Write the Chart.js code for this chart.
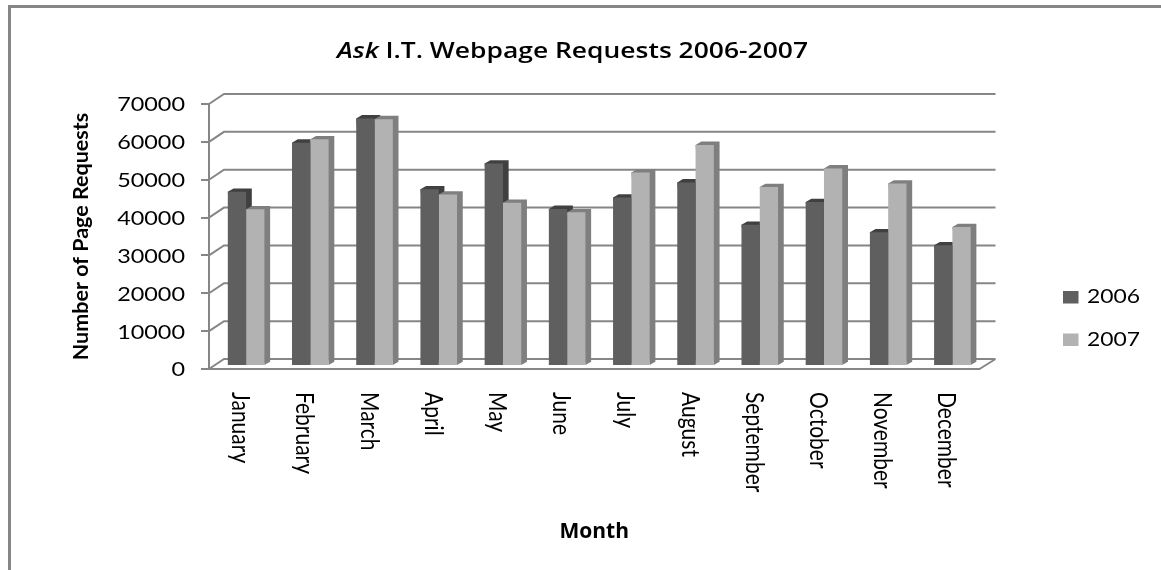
<!DOCTYPE html>
<html>
<head>
<meta charset="utf-8">
<script src="https://cdn.jsdelivr.net/npm/chart.js@4"></script>
<style>
    html, body { margin: 0; background: #fff; }
    canvas { display: block; }
</style>
</head>
<body>
<canvas id="requestsChart" width="1161" height="570"></canvas>
<script>
const months = ['January', 'February', 'March', 'April', 'May', 'June', 'July', 'August', 'September', 'October', 'November', 'December'];
const requests2006 = [46000, 59000, 65400, 46700, 53500, 41500, 44500, 48500, 37300, 43300, 35300, 31900];
const requests2007 = [41400, 59900, 65200, 45300, 43100, 40600, 51100, 58400, 47300, 52200, 48200, 36700];

const fontName = 'Lato, sans-serif';
const axisGrey = '#868686';
const front = ['#5f5f5f', '#b2b2b2'];
const shade = ['#404040', '#7f7f7f'];

// the back wall and the floor of the fake 3D box
const wallPlugin = {
    id: 'wall',
    beforeDatasetsDraw(chart) {
        let ctx = chart.ctx, y = chart.scales.y, area = chart.chartArea;
        ctx.save();
        ctx.strokeStyle = axisGrey;
        ctx.lineWidth = 2;
        ctx.beginPath();
        for (let tick of y.ticks) {
            let py = y.getPixelForValue(tick.value);
            ctx.moveTo(area.left, py);
            ctx.lineTo(area.left + 15, py - 10);
            ctx.lineTo(area.right + 16, py - 10);
        }
        let base = y.getPixelForValue(0);
        ctx.moveTo(area.right, base);
        ctx.lineTo(area.right + 16, base - 10);
        ctx.stroke();
        ctx.restore();
    }
};

// bars sit a little inside the box, and get a top and a side face
const barDepthPlugin = {
    id: 'barDepth',
    beforeDatasetsDraw(chart) {
        let ctx = chart.ctx;
        ctx.save();
        ctx.translate(5, -3);
        chart.data.datasets.forEach((ds, i) => {
            for (let bar of chart.getDatasetMeta(i).data) {
                let l = bar.x - bar.width / 2, r = bar.x + bar.width / 2;
                ctx.fillStyle = shade[i];
                ctx.beginPath();
                ctx.moveTo(l, bar.y);
                ctx.lineTo(l + 5.7, bar.y - 3.3);
                ctx.lineTo(r + 5.7, bar.y - 3.3);
                ctx.lineTo(r + 5.7, bar.base - 3.3);
                ctx.lineTo(r, bar.base);
                ctx.closePath();
                ctx.fill();
            }
        });
    },
    afterDatasetsDraw(chart) {
        chart.ctx.restore();
    }
};

// the reference text is stretched sideways, so squeeze runs to a measured width
function fillRuns(ctx, runs, x, y, width) {
    let total = 0;
    for (let run of runs) {
        ctx.font = run.font;
        total += ctx.measureText(run.text).width;
    }
    ctx.save();
    ctx.translate(x, y);
    ctx.scale(width / total, 1);
    let pos = 0;
    for (let run of runs) {
        ctx.font = run.font;
        ctx.fillText(run.text, pos, 0);
        pos += ctx.measureText(run.text).width;
    }
    ctx.restore();
}

// title with an italic word, axis labels, legend, outer frame
const textPlugin = {
    id: 'texts',
    afterDraw(chart) {
        let ctx = chart.ctx, x = chart.scales.x, y = chart.scales.y;
        ctx.save();

        ctx.strokeStyle = axisGrey;
        ctx.lineWidth = 3;
        ctx.beginPath();
        ctx.moveTo(9.5, 570);
        ctx.lineTo(9.5, 6.5);
        ctx.lineTo(1161, 6.5);
        ctx.stroke();

        ctx.fillStyle = '#000';
        ctx.textBaseline = 'middle';
        ctx.textAlign = 'left';
        fillRuns(ctx, [
            { text: 'Ask', font: 'italic 600 21px "Open Sans", sans-serif' },
            { text: ' I.T. Webpage Requests 2006-2007', font: '600 21px "Open Sans", sans-serif' }
        ], 337, 52, 471);

        // y tick labels, right edge at 185
        let tickFont = '20px ' + fontName;
        for (let tick of y.ticks) {
            ctx.font = tickFont;
            let w = ctx.measureText(tick.label).width * 1.17;
            fillRuns(ctx, [{ text: tick.label, font: tickFont }], 185 - w, y.getPixelForValue(tick.value) + 1, w);
        }

        chart.data.datasets.forEach((ds, i) => {
            let ly = 297 + i * 42.5;
            ctx.fillStyle = front[i];
            ctx.fillRect(1063, ly - 6, 15.5, 12.5);
            ctx.fillStyle = '#000';
            fillRuns(ctx, [{ text: ds.label, font: tickFont }], 1087, ly, 53);
        });

        // month labels read downwards, glyphs stretched across the text
        ctx.textBaseline = 'alphabetic';
        ctx.font = '21px ' + fontName;
        months.forEach((m, i) => {
            ctx.save();
            ctx.translate(x.getPixelForTick(i) - 9, 392);
            ctx.rotate(Math.PI / 2);
            ctx.scale(1, 1.15);
            ctx.fillText(m, 0, 0);
            ctx.restore();
        });
        ctx.restore();
    }
};

new Chart(document.getElementById('requestsChart'), {
    type: 'bar',
    data: {
        labels: months,
        datasets: [
            { label: '2006', data: requests2006, backgroundColor: front[0] },
            { label: '2007', data: requests2007, backgroundColor: front[1] }
        ]
    },
    options: {
        responsive: false,
        animation: false,
        layout: { padding: { top: 104, right: 181.5 } },
        datasets: { bar: { categoryPercentage: 0.57, barPercentage: 1 } },
        plugins: {
            legend: { display: false },
            title: { display: false },
            tooltip: { enabled: false }
        },
        scales: {
            x: {
                afterFit: s => { s.height = 201; },
                grid: { display: false },
                border: { color: axisGrey, width: 2 },
                ticks: { display: false },
                title: {
                    display: true,
                    text: 'Month',
                    color: '#000',
                    font: { family: 'Open Sans, sans-serif', size: 21, weight: 'bold' },
                    padding: { top: 0, bottom: 25 }
                }
            },
            y: {
                min: 0,
                max: 70000,
                afterFit: s => { s.width = 209; },
                grid: { drawOnChartArea: false, color: axisGrey, lineWidth: 2, tickLength: 8 },
                border: { color: axisGrey, width: 2 },
                ticks: {
                    stepSize: 10000,
                    display: false,
                    callback: v => String(v)
                },
                title: {
                    display: true,
                    text: 'Number of Page Requests',
                    color: '#000',
                    font: { family: fontName, size: 21.5, weight: 'bold' },
                    padding: { top: 68, bottom: 0 }
                }
            }
        }
    },
    plugins: [wallPlugin, barDepthPlugin, textPlugin]
});
</script>
</body>
</html>
